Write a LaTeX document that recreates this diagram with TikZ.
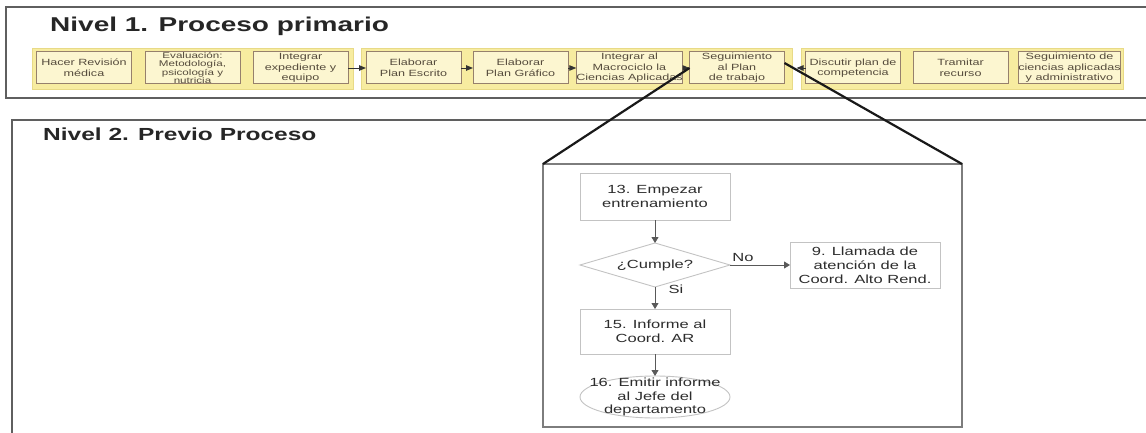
\documentclass[tikz,border=0pt]{standalone}
\usepackage{fontspec}
\setmainfont{Liberation Sans}[FakeStretch=1.4]
\usetikzlibrary{arrows.meta,shapes.geometric}

\definecolor{bandfill}{RGB}{247,236,160}
\definecolor{banddraw}{RGB}{232,218,135}
\definecolor{boxfill}{RGB}{252,246,208}
\definecolor{boxdraw}{RGB}{150,128,108}
\definecolor{boxtext}{RGB}{85,75,60}
\definecolor{framegray}{RGB}{95,95,95}
\definecolor{zoomgray}{RGB}{125,125,125}
\definecolor{flowdraw}{RGB}{195,195,195}
\definecolor{flowtext}{RGB}{45,45,45}

\begin{document}
\begin{tikzpicture}[x=1pt,y=-1pt,
  levelframe/.style={draw=framegray,line width=1.5pt},
  titleA/.style={inner sep=0pt,font=\bfseries\fontsize{20}{24}\selectfont,text=black!85},
  titleB/.style={inner sep=0pt,font=\bfseries\fontsize{17.5}{21}\selectfont,text=black!85},
  band/.style={draw=banddraw,fill=bandfill,line width=0.8pt,minimum height=41pt,inner sep=0pt,outer sep=0pt},
  stagebox/.style={draw=boxdraw,fill=boxfill,line width=1pt,minimum width=95pt,minimum height=32pt,
    inner sep=0pt,outer sep=0pt,align=center,text=boxtext,font=\fontsize{9}{10.6}\selectfont},
  stagearrow/.style={draw=black!80,line width=0.9pt,-{Triangle[length=7pt,width=5.5pt]}},
  zoomframe/.style={draw=zoomgray,line width=2.8pt,minimum width=419pt,minimum height=263pt,inner sep=0pt,outer sep=0pt},
  zoomline/.style={draw=black!90,line width=2.2pt},
  flowbox/.style={draw=flowdraw,fill=white,line width=0.9pt,minimum width=150pt,inner sep=0pt,outer sep=0pt,
    align=center,text=flowtext,font=\fontsize{11.8}{13.8}\selectfont},
  decision/.style={flowbox,diamond,shape aspect=3.4,minimum height=44pt},
  finalnode/.style={flowbox,ellipse,inner xsep=-14pt,inner ysep=-6pt,minimum height=42pt},
  flowarrow/.style={draw=black!65,line width=0.8pt,-{Triangle[length=6pt,width=7pt]}},
  flowlabel/.style={inner sep=0pt,text=flowtext,font=\fontsize{11.8}{13}\selectfont}]

\useasboundingbox (0,0) rectangle (1146,433);
\clip (0,0) rectangle (1146,433);

% level frames (they run past the right and bottom edges)
\coordinate (f1a) at (1160,7);
\coordinate (f1b) at (6,7);
\coordinate (f1c) at (6,98);
\coordinate (f1d) at (1160,98);
\draw[levelframe] (f1a) -- (f1b) -- (f1c) -- (f1d);
\coordinate (f2a) at (1160,120);
\coordinate (f2b) at (12,120);
\coordinate (f2c) at (12,450);
\draw[levelframe] (f2a) -- (f2b) -- (f2c);

\node[titleA,anchor=base west] (tA) at (50,32) {Nivel 1. Proceso primario};
\node[titleB,anchor=base west] (tB) at (43,141) {Nivel 2. Previo Proceso};

% yellow groups of the primary process
\node[band,minimum width=321pt] (band1) at (192.5,68.5) {};
\node[band,minimum width=431pt] (band2) at (576.5,68.5) {};
\node[band,minimum width=322pt] (band3) at (962,68.5) {};

% primary process steps
\node[stagebox] (b1) at (84,68) {Hacer Revisión\\médica};
\node[stagebox,font=\fontsize{8.3}{8.6}\selectfont] (b2) at (192.5,68) {Evaluación:\\Metodología,\\psicología y\\nutricia};
\node[stagebox] (b3) at (300.5,68) {Integrar\\expediente y\\equipo};
\node[stagebox] (b4) at (413.5,68) {Elaborar\\Plan Escrito};
\node[stagebox] (b5) at (520.5,68) {Elaborar\\Plan Gráfico};
\node[stagebox] (b6) at (629.5,68) {Integrar al\\Macrociclo la\\Ciencias Aplicadas};
\node[stagebox] (b7) at (737,68) {Seguimiento\\al Plan\\de trabajo};
\node[stagebox] (b8) at (853,68) {Discutir plan de\\competencia};
\node[stagebox] (b9) at (960.5,68) {Tramitar\\recurso};
\node[stagebox] (b10) at (1069.5,68) {Seguimiento de\\ciencias aplicadas\\y administrativo};

\draw[stagearrow] (b3) -- (b4);
\draw[stagearrow] (b4) -- (b5);
\draw[stagearrow] (b5) -- (b6);
\draw[stagearrow] (b6) -- (b7);
\draw[stagearrow,shorten >=12pt] (b8) -- (b7);

% detail of the selected step
\node[zoomframe] (zf) at (752.5,295.5) {};
\draw[zoomline] (zf.north west) -- (b7.west);
\draw[zoomline] (zf.north east) -- ([yshift=5pt]b7.east);

\node[flowbox,minimum height=47pt] (s13) at (655,196.5) {13. Empezar\\entrenamiento};
\node[decision] (dq) at (655,265) {¿Cumple?};
\node[flowbox,minimum height=46pt] (s9) at (865,265) {9. Llamada de\\atención de la\\Coord. Alto Rend.};
\node[flowbox,minimum height=45pt] (s15) at (655,331.5) {15. Informe al\\Coord. AR};
\node[finalnode] (s16) at (655,397) {16. Emitir informe\\al Jefe del\\departamento};

\draw[flowarrow] (s13) -- (dq);
\draw[flowarrow] (dq) -- (s9);
\draw[flowarrow] (dq) -- (s15);
\draw[flowarrow] (s15) -- (s16);

\node[flowlabel] (lno) at (743,257) {No};
\node[flowlabel] (lsi) at (676,289) {Si};

\end{tikzpicture}
\end{document}
